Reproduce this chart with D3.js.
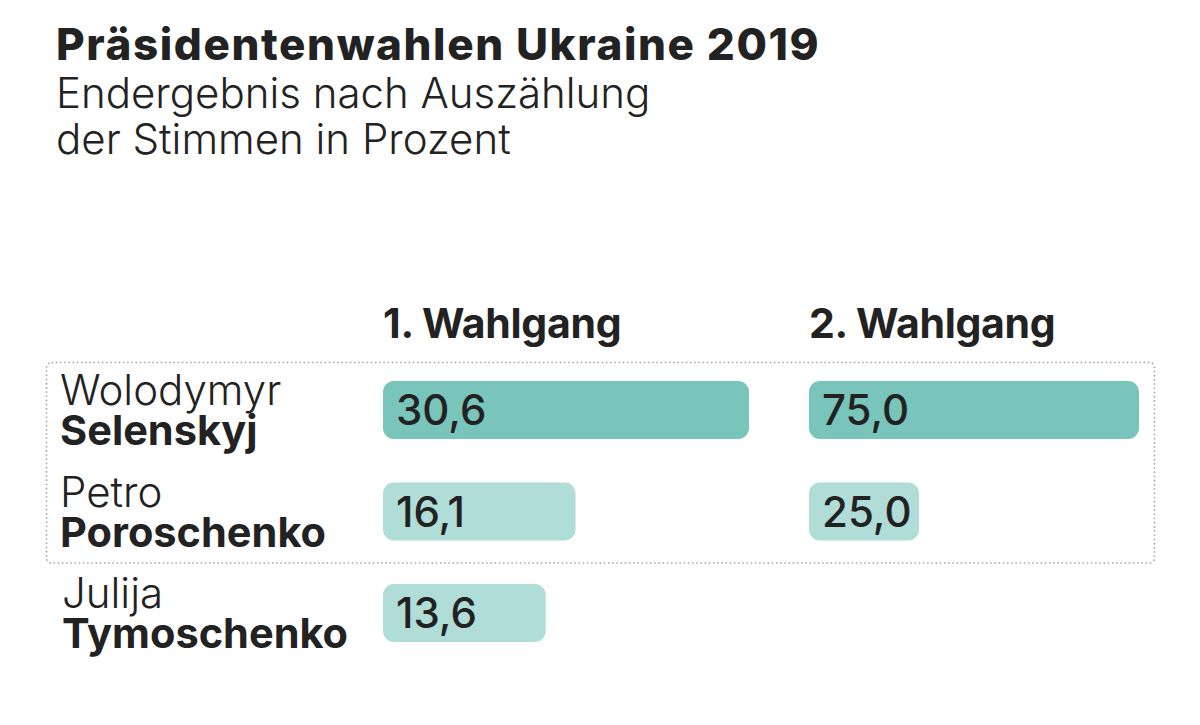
<!DOCTYPE html>
<html><head><meta charset="utf-8">
<script src="https://cdn.jsdelivr.net/npm/d3@7"></script>
<style>
html,body{margin:0;padding:0;background:#fff;}
svg{display:block;font-family:Inter,"Noto Sans",sans-serif;}
</style></head>
<body>
<svg id="chart" width="1200" height="725"></svg>
<script>
const title = "Präsidentenwahlen Ukraine 2019";
const subtitle = ["Endergebnis nach Auszählung", "der Stimmen in Prozent"];
const rounds = ["1. Wahlgang", "2. Wahlgang"];
const firstNames = ["Wolodymyr", "Petro", "Julija"];
const lastNames = ["Selenskyj", "Poroschenko", "Tymoschenko"];
const round1 = [30.6, 16.1, 13.6];
const round2 = [75.0, 25.0, null];
const winnerIndex = 0;

const svg = d3.select("#chart");
const ink = "#222222";

svg.append("text").attr("x", 56).attr("y", 60)
  .attr("font-size", 44).attr("font-weight", 800).attr("letter-spacing", 1.6).attr("fill", ink).text(title);
subtitle.forEach((s, i) => {
  svg.append("text").attr("x", 56).attr("y", 108 + i * 46)
    .attr("font-size", 42).attr("font-weight", 300).attr("fill", ink).text(s);
});

const y = d3.scaleBand().domain(d3.range(firstNames.length)).range([381, 381 + 3 * 101.5]).paddingInner(0);
const barH = 58;
const colX = [383, 809];
const xs = [
  d3.scaleLinear().domain([0, d3.max(round1)]).range([0, 366]),
  d3.scaleLinear().domain([0, d3.max(round2)]).range([0, 330])
];
const fmt = v => d3.format(".1f")(v).replace(".", ",");

// dotted frame around runoff candidates
svg.append("rect").attr("x", 46.5).attr("y", 362.5).attr("width", 1108).attr("height", 200.5)
  .attr("rx", 5).attr("fill", "none").attr("stroke", "#a8a8a8").attr("stroke-width", 1.6)
  .attr("stroke-dasharray", "1.6 2.6");

rounds.forEach((r, i) => {
  svg.append("text").attr("x", colX[i]).attr("y", 338)
    .attr("font-size", 41).attr("font-weight", 700).attr("letter-spacing", -0.3).attr("fill", ink).text(r);
});

// names: two-line labels (first name light, last name bold)
const names = svg.append("g").selectAll("text").data(firstNames).join("text")
  .attr("fill", ink).attr("font-size", 42);
names.append("tspan").attr("x", (d, i) => i === 2 ? 62 : 60).attr("y", (d, i) => y(i) + 24)
  .attr("font-weight", 300).text(d => d);
names.append("tspan").attr("x", (d, i) => i === 2 ? 62 : 60).attr("y", (d, i) => y(i) + 64)
  .attr("font-size", 41.5).attr("font-weight", 700).text((d, i) => lastNames[i]);

[round1, round2].forEach((vals, c) => {
  const data = vals.map((v, i) => ({v, i})).filter(d => d.v != null);
  const g = svg.append("g");
  g.selectAll("rect").data(data).join("rect")
    .attr("x", colX[c]).attr("y", d => y(d.i))
    .attr("width", d => xs[c](d.v)).attr("height", barH).attr("rx", 11)
    .attr("fill", d => d.i === winnerIndex ? "#79c4bb" : "#b0ddd7");
  g.selectAll("text").data(data).join("text")
    .attr("x", colX[c] + 13).attr("y", d => y(d.i) + barH / 2 + 15)
    .attr("font-size", 42).attr("font-weight", 500).attr("fill", ink)
    .text(d => fmt(d.v));
});
</script>
</body></html>
